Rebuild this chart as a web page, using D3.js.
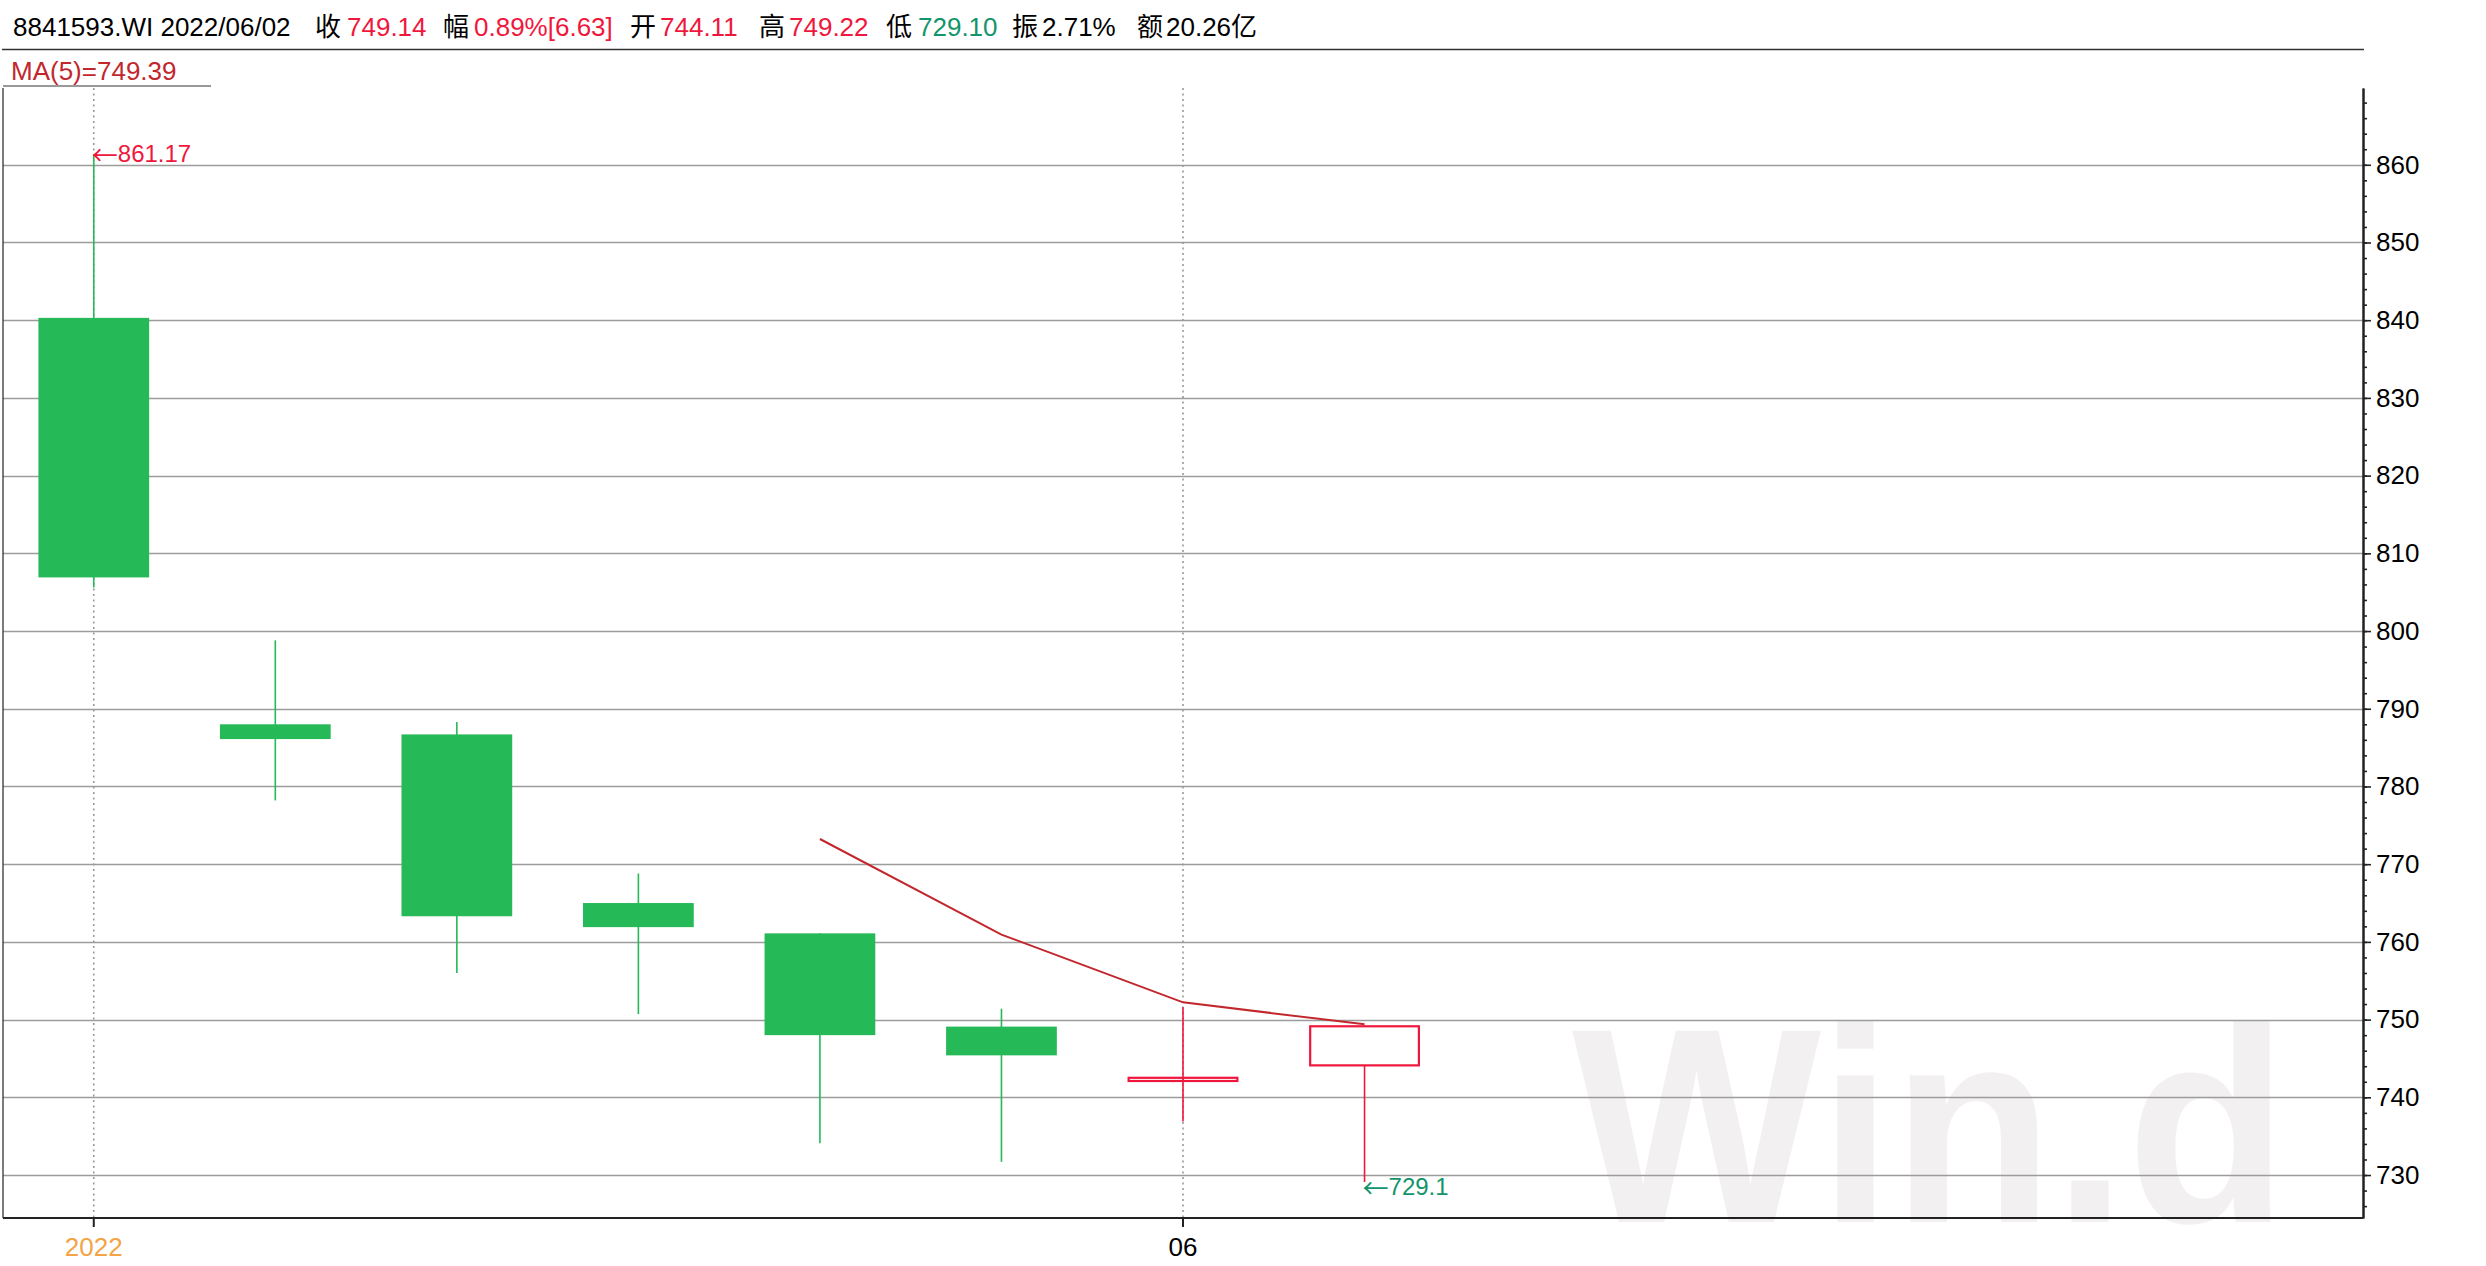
<!DOCTYPE html>
<html><head><meta charset="utf-8">
<script src="https://cdn.jsdelivr.net/npm/d3@7"></script>
<style>
html,body{margin:0;padding:0;background:#fff;}
svg{display:block;}
text{font-family:"Liberation Sans",Arial,"Noto Sans CJK SC",sans-serif;}
</style>
</head><body>
<svg id="c" width="2486" height="1266"></svg>
<script>
// ---------- data ----------
const dates = ["2022/05/24","2022/05/25","2022/05/26","2022/05/27","2022/05/30","2022/05/31","2022/06/01","2022/06/02"];
const openVals  = [840.3, 788.0, 786.7, 765.0, 761.1, 749.1, 742.1, 744.11];
const highVals  = [861.17, 798.8, 788.3, 768.8, 761.1, 751.4, 751.6, 749.22];
const lowVals   = [805.6, 778.2, 756.0, 750.7, 734.1, 731.7, 736.9, 729.10];
const closeVals = [806.9, 786.1, 763.3, 761.9, 748.0, 745.4, 742.51, 749.14];
const maPeriod = 5;
const slotCount = 13;               // visible trading-day slots (8 used)
const yTickValues = d3.range(730, 861, 10);
const yMinorTickValues = d3.range(726, 869, 2);
const xLabelIndex = [0, 6];
const xLabelText = ["2022", "06"];
const headerLabels = ["", "收", "幅", "开", "高", "低", "振", "额"];
const headerValues = ["8841593.WI 2022/06/02", "749.14", "0.89%[6.63]", "744.11", "749.22", "729.10", "2.71%", "20.26亿"];
const watermarkText = "Win.d";

// ---------- style / layout ----------
const W = 2486, H = 1266;
const plot = {left: 3, right: 2363, top: 88, bottom: 1218};
const C = {
  red: "#f0173d", green: "#26b957", teal: "#12956a", ma: "#c2272d",
  orange: "#f3a446", grid: "#9c9c9c", axis: "#222", black: "#000", wm: "#f3f0f1"
};
const headerValueColors = [C.black, C.red, C.red, C.red, C.red, C.teal, C.black, C.black];
const headerLabelX = [0, 315, 443, 630, 759, 886, 1012, 1137];
const headerValueX = [13, 347, 474, 660, 789, 918, 1042, 1166];
const FS = 26;

const svg = d3.select("#c");
svg.append("rect").attr("width", W).attr("height", H).attr("fill", "#fff");

const candles = dates.map((d, i) => ({
  i, date: d, open: openVals[i], high: highVals[i], low: lowVals[i], close: closeVals[i]
}));
const ma = candles.map((c, i) => i < maPeriod - 1 ? null :
  {i, v: d3.mean(closeVals.slice(i - maPeriod + 1, i + 1))}).filter(d => d);

const x = d3.scaleBand().domain(d3.range(slotCount))
  .range([plot.left, plot.right]).paddingInner(0.39).paddingOuter(0.195);
const cx = i => x(i) + x.bandwidth() / 2;
const y = d3.scaleLinear().domain([724.47, 869.88]).range([plot.bottom, plot.top]);

// watermark
svg.append("text").attr("x", 1572).attr("y", 1222)
  .attr("font-size", 278).attr("font-weight", "bold")
  .attr("textLength", 716).attr("lengthAdjust", "spacingAndGlyphs")
  .attr("fill", C.wm).text(watermarkText);

// header
const hdr = svg.append("g");
headerLabels.forEach((l, k) => {
  if (l) hdr.append("text").attr("x", headerLabelX[k]).attr("y", 36)
    .attr("font-size", FS).attr("fill", C.black).text(l);
  hdr.append("text").attr("x", headerValueX[k]).attr("y", 36)
    .attr("font-size", FS).attr("fill", headerValueColors[k]).text(headerValues[k]);
});
svg.append("line").attr("x1", 2).attr("x2", plot.right + 1).attr("y1", 49.5).attr("y2", 49.5)
  .attr("stroke", "#333").attr("stroke-width", 1.5);

// MA legend
const maLast = ma[ma.length - 1].v;
svg.append("text").attr("x", 11).attr("y", 80).attr("font-size", FS).attr("fill", C.ma)
  .text(`MA(${maPeriod})=${maLast.toFixed(2)}`);
svg.append("line").attr("x1", 3).attr("x2", 211).attr("y1", 86).attr("y2", 86)
  .attr("stroke", "#999").attr("stroke-width", 2);

// gridlines
svg.append("g").selectAll("line").data(yTickValues).join("line")
  .attr("x1", plot.left).attr("x2", plot.right)
  .attr("y1", d => Math.round(y(d)) + 0.5).attr("y2", d => Math.round(y(d)) + 0.5)
  .attr("stroke", C.grid).attr("stroke-width", 1.6);

// dotted verticals at date labels
svg.append("g").selectAll("line").data(xLabelIndex).join("line")
  .attr("x1", d => cx(d)).attr("x2", d => cx(d))
  .attr("y1", plot.top).attr("y2", plot.bottom)
  .attr("stroke", "#999").attr("stroke-width", 1.6).attr("stroke-dasharray", "2,3.5");

// candles
const cg = svg.append("g");
const bw = x.bandwidth();
candles.forEach(c => {
  const up = c.close >= c.open;
  const col = up ? C.red : C.green;
  cg.append("line").attr("x1", cx(c.i)).attr("x2", cx(c.i))
    .attr("y1", y(c.high)).attr("y2", y(c.low))
    .attr("stroke", col).attr("stroke-width", 1.6);
  const top = y(Math.max(c.open, c.close)), bot = y(Math.min(c.open, c.close));
  if (up) {
    const thin = (bot - top) < 6;
    cg.append("rect").attr("x", x(c.i) + 1).attr("y", top)
      .attr("width", bw - 2).attr("height", Math.max(bot - top, 1.5))
      .attr("fill", thin ? "none" : "#fff")
      .attr("stroke", col).attr("stroke-width", 2.2);
  } else {
    cg.append("rect").attr("x", x(c.i)).attr("y", top)
      .attr("width", bw).attr("height", Math.max(bot - top, 1))
      .attr("fill", col);
  }
});

// MA line
svg.append("path").datum(ma)
  .attr("d", d3.line().x(d => cx(d.i)).y(d => y(d.v)))
  .attr("fill", "none").attr("stroke", C.ma).attr("stroke-width", 2);

// extreme annotations
const fmt = v => String(+v.toFixed(2));
const hi = d3.maxIndex(highVals), lo = d3.minIndex(lowVals);
function annot(i, v, col, dy) {
  const t = svg.append("text").attr("x", cx(i) - 2).attr("y", y(v) + dy)
    .attr("dominant-baseline", "central").attr("font-size", 24).attr("fill", col);
  t.append("tspan").attr("font-family", '"Noto Sans CJK SC","DejaVu Sans",sans-serif')
    .attr("font-size", 26).text("←");
  t.append("tspan").text(fmt(v));
}
annot(hi, highVals[hi], C.red, -3);
annot(lo, lowVals[lo], C.teal, 4);

// left border
svg.append("line").attr("x1", plot.left).attr("x2", plot.left)
  .attr("y1", plot.top).attr("y2", plot.bottom).attr("stroke", C.axis).attr("stroke-width", 1.2);

// right y axis
const yAxisMinor = d3.axisRight(y).tickValues(yMinorTickValues).tickSize(4).tickFormat("").tickSizeOuter(0);
const gyMinor = svg.append("g").attr("transform", `translate(${plot.right},0)`).call(yAxisMinor);
const yAxis = d3.axisRight(y).tickValues(yTickValues).tickSize(8).tickPadding(5).tickSizeOuter(0);
const gy = svg.append("g").attr("transform", `translate(${plot.right},0)`).call(yAxis);
[gy, gyMinor].forEach(g => {
  g.select(".domain").attr("stroke", C.axis).attr("stroke-width", 2);
  g.selectAll(".tick line").attr("stroke", C.axis).attr("stroke-width", 1.6);
});
gy.selectAll(".tick text").attr("font-size", FS).attr("fill", C.black)
  .attr("font-family", '"Liberation Sans",Arial,sans-serif');

// bottom x axis
const xAxis = d3.axisBottom(x).tickValues(xLabelIndex)
  .tickFormat((d, k) => xLabelText[k]).tickSize(9).tickPadding(11).tickSizeOuter(0)
  .offset(0);
const gx = svg.append("g").attr("transform", `translate(0,${plot.bottom})`).call(xAxis);
gx.select(".domain").attr("stroke", C.axis).attr("stroke-width", 2.2);
gx.selectAll(".tick line").attr("stroke", C.axis).attr("stroke-width", 2);
gx.selectAll(".tick text").attr("font-size", FS)
  .attr("font-family", '"Liberation Sans",Arial,sans-serif')
  .attr("fill", (d, k) => k === 0 ? C.orange : C.black);
</script>
</body></html>
